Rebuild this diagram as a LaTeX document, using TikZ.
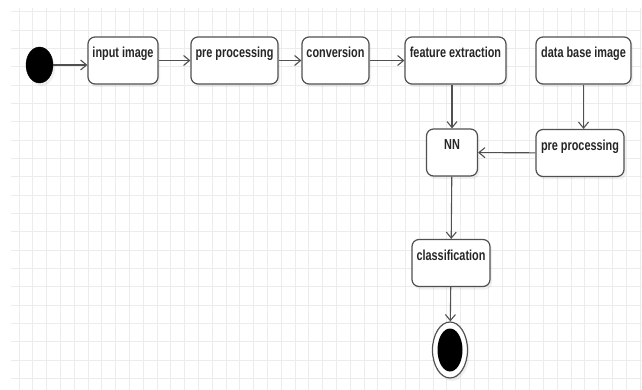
\documentclass[tikz,border=0pt]{standalone}
\usepackage{fontspec}
\setmainfont{Liberation Sans}
\newfontfamily\labelfont{Liberation Sans}[FakeStretch=0.75]
\usetikzlibrary{arrows.meta, shapes.geometric, shadows}
\definecolor{edgegray}{HTML}{505050}
\definecolor{gridgray}{HTML}{ECECEC}

\begin{document}
\begin{tikzpicture}[
		x=1pt, y=-1pt,
		grid line/.style={draw=gridgray, line width=0.8pt},
		act/.style={draw=edgegray, line width=1.2pt, fill=white, rounded corners=7pt, inner sep=0pt, text height=21pt, text depth=26pt, text=black!85, font=\labelfont\bfseries\fontsize{14.5}{16}\selectfont, drop shadow={opacity=0.12, shadow xshift=2pt, shadow yshift=-3pt}},
		start dot/.style={ellipse, draw=black, fill=black, minimum width=27pt, minimum height=36pt, inner sep=0pt, drop shadow={opacity=0.12, shadow xshift=2pt, shadow yshift=-3pt}},
		end ring/.style={ellipse, draw=edgegray, line width=1.2pt, fill=white, minimum width=35pt, minimum height=56pt, inner sep=0pt, drop shadow={opacity=0.12, shadow xshift=2pt, shadow yshift=-3pt}},
		end core/.style={ellipse, fill=black, minimum width=25pt, minimum height=43pt, inner sep=0pt},
		flow/.style={draw=edgegray, line width=1.1pt, -{Straight Barb[length=6pt, width=10pt]}}
		]
		
		\useasboundingbox (0,0) rectangle (642,390);
		
		% =========================================================
		% Background grid
		% =========================================================
		\foreach \k in {0,...,45} {
			\draw[grid line] ({19+13.8*\k}, 8) -- ({19+13.8*\k}, 390);
		}
		\foreach \k in {0,...,20} {
			\draw[grid line] (11, {11.7+18.33*\k}) -- (642, {11.7+18.33*\k});
		}
		
		% =========================================================
		% Top row
		% =========================================================
		\node[start dot] (start) at (39.5,65) {};
		\node[act, minimum width=70pt] (inimg) at (123,60.5) {input image};
		\node[act, minimum width=87pt] (prep) at (234.5,60.5) {pre processing};
		\node[act, minimum width=67pt] (conv) at (335.5,60.5) {conversion};
		\node[act, minimum width=101pt] (feat) at (455.5,60.5) {feature extraction};
		\node[act, minimum width=95pt] (dbimg) at (583.5,60.5) {data base image};
		
		% =========================================================
		% Matching and result
		% =========================================================
		\node[act, minimum width=51pt] (nn) at (452,152.5) {NN};
		\node[act, minimum width=88pt] (dbprep) at (580,153) {pre processing};
		\node[act, minimum width=78pt] (cls) at (451,263) {classification};
		\node[end ring] (stop) at (450,350) {};
		\node[end core] (stop core) at (stop) {};
		
		% Connectors
		\draw[flow] (start.east) -- (start.east -| inimg.west);
		\draw[flow] (inimg) -- (prep);
		\draw[flow] (prep) -- (conv);
		\draw[flow] (conv) -- (feat);
		\draw[flow] (feat.south -| nn) -- (nn);
		\draw[flow] (dbimg) -- (dbimg |- dbprep.north);
		\draw[flow] (dbprep) -- (nn);
		\draw[flow] (nn) -- (cls);
		\draw[flow] (cls) -- (stop);
		
	\end{tikzpicture}
\end{document}
